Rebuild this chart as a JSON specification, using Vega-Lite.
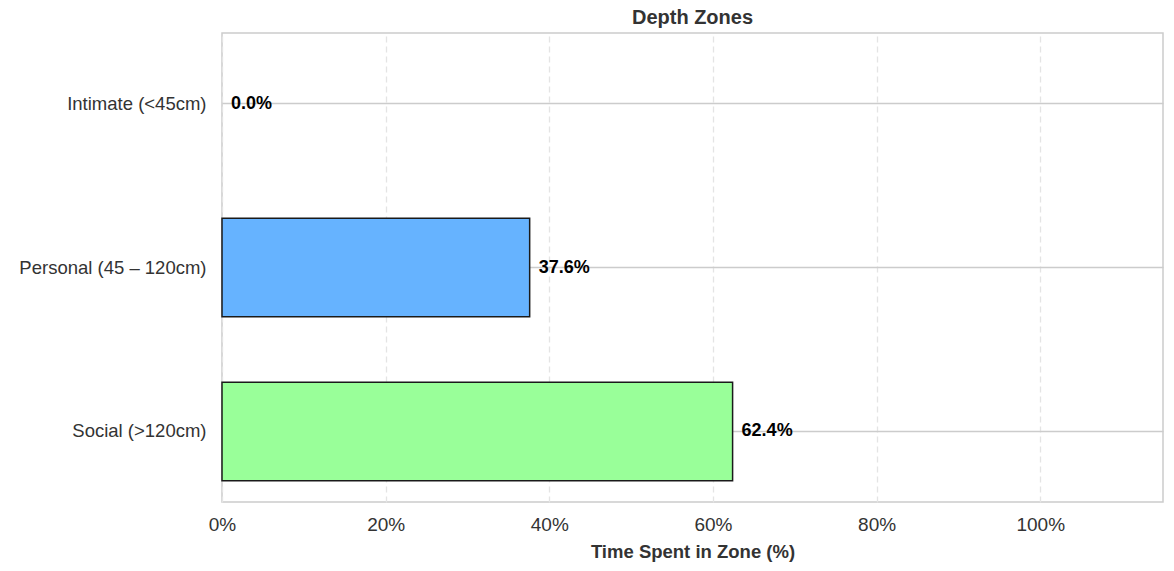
{
  "$schema": "https://vega.github.io/schema/vega-lite/v6.json",
  "width": 941,
  "height": 469,
  "autosize": {"type": "none"},
  "padding": {"left": 222, "top": 33, "right": 11, "bottom": 69},
  "config": {
    "font": "Liberation Sans",
    "view": {"stroke": "#cccccc", "strokeWidth": 1.5}
  },
  "title": {
    "text": "Depth Zones",
    "fontSize": 20,
    "fontWeight": "bold",
    "color": "#333333",
    "anchor": "middle",
    "offset": 5
  },
  "data": {
    "values": [
      {"zone": "Intimate (<45cm)", "share": 0.0},
      {"zone": "Personal (45 \u2013 120cm)", "share": 0.376},
      {"zone": "Social (>120cm)", "share": 0.624}
    ]
  },
  "encoding": {
    "y": {
      "field": "zone",
      "type": "nominal",
      "sort": null,
      "title": null,
      "scale": {"paddingInner": 0.4, "paddingOuter": 0.13},
      "axis": {
        "bandPosition": 0.5,
        "grid": true,
        "gridColor": "#cccccc",
        "gridWidth": 1.3,
        "ticks": false,
        "domain": false,
        "labelFontSize": 18.5,
        "labelColor": "#333333",
        "labelPadding": 16,
        "labelLimit": 400
      }
    },
    "x": {
      "field": "share",
      "type": "quantitative",
      "title": "Time Spent in Zone (%)",
      "scale": {"domain": [0, 1.15], "nice": false},
      "axis": {
        "values": [0, 0.2, 0.4, 0.6, 0.8, 1.0],
        "format": ".0%",
        "grid": true,
        "gridColor": "#e4e4e4",
        "gridDash": [6, 4],
        "gridWidth": 1.3,
        "ticks": false,
        "domain": false,
        "labelFlush": false,
        "labelFontSize": 19,
        "labelColor": "#333333",
        "labelPadding": 13,
        "titleFontSize": 18.5,
        "titleFontWeight": "bold",
        "titleColor": "#333333",
        "titlePadding": 8
      }
    }
  },
  "layer": [
    {
      "mark": {"type": "bar", "stroke": "#1a1a1a"},
      "encoding": {
        "color": {
          "field": "zone",
          "type": "nominal",
          "legend": null,
          "scale": {
            "domain": ["Intimate (<45cm)", "Personal (45 \u2013 120cm)", "Social (>120cm)"],
            "range": ["#ff9999", "#66b3ff", "#99ff99"]
          }
        },
        "strokeWidth": {"condition": {"test": "datum.share > 0", "value": 1.5}, "value": 0}
      }
    },
    {
      "mark": {
        "type": "text",
        "align": "left",
        "baseline": "middle",
        "dx": 9,
        "fontSize": 18,
        "fontWeight": "bold",
        "color": "#000000"
      },
      "encoding": {
        "text": {"field": "share", "type": "quantitative", "format": ".1%"}
      }
    }
  ]
}
